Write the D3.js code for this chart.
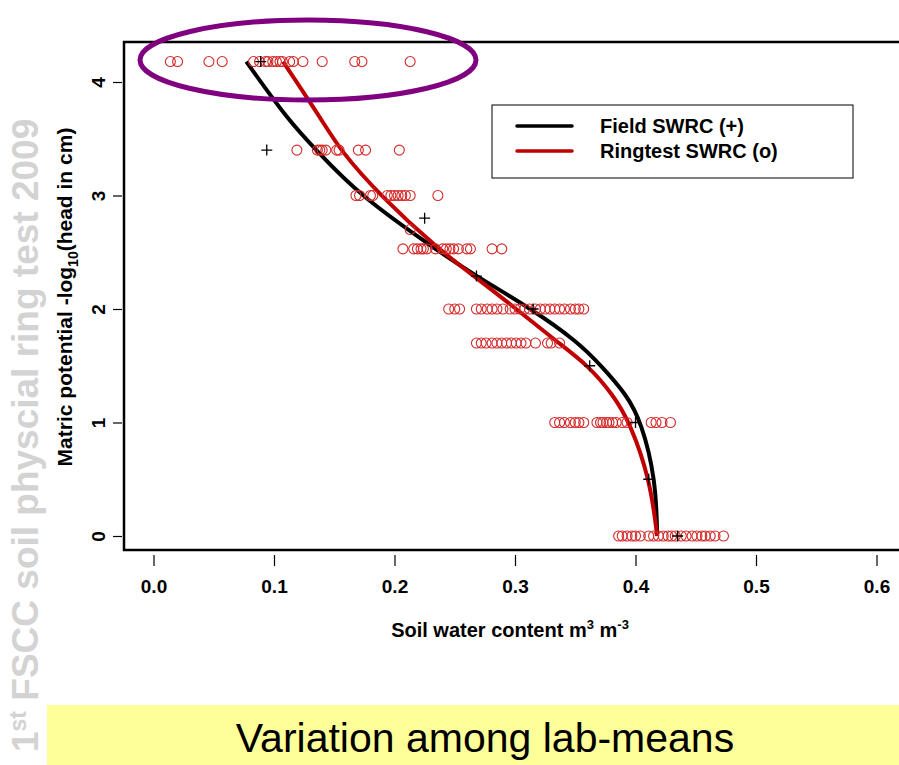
<!DOCTYPE html>
<html>
<head>
<meta charset="utf-8">
<script src="https://cdn.jsdelivr.net/npm/d3@7"></script>
<style>
  body { margin: 0; background: #fff; }
  svg { display: block; font-family: Arial, "Liberation Sans", sans-serif; }
</style>
</head>
<body>
<div id="wrapper"></div>
<script>
// ringtest lab means, one array per pF level (theta in m3/m3)
const ring418 = [0.014, 0.020, 0.046, 0.057, 0.083, 0.088, 0.093, 0.095, 0.099, 0.102, 0.105, 0.107, 0.113, 0.116, 0.124, 0.140, 0.167, 0.173, 0.213];
const ring340 = [0.119, 0.136, 0.138, 0.140, 0.143, 0.152, 0.154, 0.170, 0.176, 0.204];
const ring300 = [0.168, 0.171, 0.180, 0.182, 0.194, 0.197, 0.200, 0.203, 0.206, 0.209, 0.213, 0.236];
const ring270 = [0.213];
const ring253 = [0.207, 0.216, 0.219, 0.222, 0.224, 0.227, 0.234, 0.240, 0.243, 0.246, 0.249, 0.253, 0.260, 0.263, 0.281, 0.289];
const ring200 = [0.245, 0.250, 0.254, 0.268, 0.272, 0.277, 0.281, 0.285, 0.290, 0.296, 0.300, 0.304, 0.308, 0.312, 0.317, 0.321, 0.325, 0.329, 0.333, 0.337, 0.341, 0.346, 0.350, 0.353, 0.357];
const ring170 = [0.268, 0.272, 0.276, 0.281, 0.285, 0.289, 0.293, 0.297, 0.301, 0.305, 0.309, 0.317, 0.327, 0.330, 0.337];
const ring100 = [0.333, 0.337, 0.341, 0.346, 0.350, 0.353, 0.357, 0.368, 0.371, 0.373, 0.376, 0.378, 0.381, 0.384, 0.389, 0.393, 0.413, 0.417, 0.422, 0.429];
const ring000 = [0.386, 0.389, 0.393, 0.397, 0.400, 0.404, 0.411, 0.415, 0.419, 0.423, 0.427, 0.430, 0.433, 0.438, 0.442, 0.447, 0.451, 0.455, 0.458, 0.462, 0.466, 0.473];

const ringRows = [[4.18, ring418], [3.4, ring340], [3.0, ring300], [2.7, ring270], [2.53, ring253],
                  [2.0, ring200], [1.7, ring170], [1.0, ring100], [0.0, ring000]];

// field measurements (+)
const fieldTheta = [0.089, 0.094, 0.225, 0.268, 0.315, 0.362, 0.400, 0.411, 0.435];
const fieldPf    = [4.18, 3.4, 2.8, 2.29, 2.0, 1.5, 1.0, 0.5, 0.0];

// fitted curves read along the pF axis
const curvePf    = [4.18, 3.665, 3.4, 3.0, 2.53, 2.29, 2.01, 1.71, 1.5, 1.245, 1.0, 0.5, 0.0];
const fieldCurve = [0.077, 0.1116, 0.135, 0.171, 0.2336, 0.2676, 0.3124, 0.3523, 0.3715, 0.3927, 0.405, 0.4168, 0.418];
const ringCurve  = [0.1075, 0.1398, 0.1548, 0.188, 0.2361, 0.266, 0.300, 0.335, 0.361, 0.3813, 0.3954, 0.412, 0.418];

const xTicks = [0, 0.1, 0.2, 0.3, 0.4, 0.5, 0.6];
const yTicks = [0, 1, 2, 3, 4];
const legendLabels = ["Field SWRC (+)", "Ringtest SWRC (o)"];

const W = 899, H = 765;
const redPt = "#d42a2a", redLine = "#c00000";
const FONT = "Arial, 'Liberation Sans', sans-serif";

var svg = d3.select("#wrapper").append("svg").attr("width", W).attr("height", H);

var x = d3.scaleLinear().domain([0, 0.6]).range([153.5, 876.5]);
var y = d3.scaleLinear().domain([0, 4]).range([536, 82]);
var frame = { left: 124, top: 42, bottom: 550 };

// watermark on the left
var wm = svg.append("text")
  .attr("transform", "translate(38,752) rotate(-90)")
  .style("font-size", "37px").style("font-weight", "bold").style("fill", "#d3d3d3");
wm.append("tspan").text("1");
wm.append("tspan").attr("dy", -12).style("font-size", "23px").text("st");
wm.append("tspan").attr("dy", 12).text(" FSCC soil physcial ring test 2009");

// yellow caption band
svg.append("rect").attr("x", 47).attr("y", 705).attr("width", W - 47).attr("height", 60).attr("fill", "#ffff99");
svg.append("text").attr("x", 485).attr("y", 752).attr("text-anchor", "middle")
  .style("font-size", "41px").style("fill", "#000").text("Variation among lab-means");

// plot frame
svg.append("rect").attr("x", frame.left).attr("y", frame.top)
  .attr("width", W + 40 - frame.left).attr("height", frame.bottom - frame.top)
  .attr("fill", "none").attr("stroke", "#000").attr("stroke-width", 2.5);

// axes
var xAxis = svg.append("g").attr("transform", "translate(0,555)")
  .call(d3.axisBottom(x).tickValues(xTicks).tickFormat(d3.format(".1f")).tickSize(11).tickPadding(14));
xAxis.select(".domain").remove();
xAxis.selectAll("line").attr("stroke-width", 1.2);
xAxis.selectAll("text").style("font-size", "19px").style("font-weight", "bold").style("font-family", FONT);

var yAxis = svg.append("g").attr("transform", "translate(122,0)")
  .call(d3.axisLeft(y).tickValues(yTicks).tickFormat(d3.format("d")).tickSize(9));
yAxis.select(".domain").remove();
yAxis.selectAll("line").attr("stroke-width", 1.2);
yAxis.selectAll("text")
  .attr("transform", "rotate(-90)").attr("x", 0).attr("y", -17).attr("dy", 0)
  .attr("text-anchor", "middle")
  .style("font-size", "19px").style("font-weight", "bold").style("font-family", FONT);

// axis titles
var xt = svg.append("text").attr("x", 510).attr("y", 637).attr("text-anchor", "middle")
  .style("font-size", "20px").style("font-weight", "bold");
xt.append("tspan").text("Soil water content m");
xt.append("tspan").attr("dy", -8).style("font-size", "13px").text("3");
xt.append("tspan").attr("dy", 8).text(" m");
xt.append("tspan").attr("dy", -8).style("font-size", "13px").text("-3");

var yt = svg.append("text").attr("transform", "translate(72,297) rotate(-90)").attr("text-anchor", "middle")
  .style("font-size", "21px").style("font-weight", "bold");
yt.append("tspan").text("Matric potential -log");
yt.append("tspan").attr("dy", 6).style("font-size", "14px").text("10");
yt.append("tspan").attr("dy", -6).text("(head in cm)");

// curves
var line = d3.line().x(d => x(d[0])).y(d => y(d[1])).curve(d3.curveBasis);
svg.append("path").datum(fieldCurve.map((t, i) => [t, curvePf[i]]))
  .attr("d", line).attr("fill", "none").attr("stroke", "#000").attr("stroke-width", 4);
svg.append("path").datum(ringCurve.map((t, i) => [t, curvePf[i]]))
  .attr("d", line).attr("fill", "none").attr("stroke", redLine).attr("stroke-width", 4);

// ringtest points
var pts = [];
ringRows.forEach(r => r[1].forEach(t => pts.push({ t: t, pf: r[0] })));
svg.append("g").selectAll("circle").data(pts).enter().append("circle")
  .attr("cx", d => x(d.t)).attr("cy", d => y(d.pf)).attr("r", 5)
  .attr("fill", "none").attr("stroke", redPt).attr("stroke-width", 1.1);

// field points
svg.append("g").selectAll("path").data(fieldTheta.map((t, i) => [t, fieldPf[i]])).enter().append("path")
  .attr("d", d => { var cx = x(d[0]), cy = y(d[1]); return `M${cx-5.5},${cy}H${cx+5.5}M${cx},${cy-5.5}V${cy+5.5}`; })
  .attr("stroke", "#000").attr("stroke-width", 1.3).attr("fill", "none");

// legend
svg.append("rect").attr("x", 492).attr("y", 105).attr("width", 361).attr("height", 73)
  .attr("fill", "#fff").attr("stroke", "#000").attr("stroke-width", 1);
var lg = svg.append("g").selectAll("g").data(legendLabels).enter().append("g")
  .attr("transform", (d, i) => `translate(0,${126 + i * 25})`);
lg.append("line").attr("x1", 517).attr("x2", 572).attr("y1", 0).attr("y2", 0)
  .attr("stroke", (d, i) => i ? redLine : "#000").attr("stroke-width", 3.5).attr("stroke-linecap", "round");
lg.append("text").attr("x", 600).attr("y", 7).style("font-size", "20px").style("font-weight", "bold").text(d => d);

// highlight ellipse
svg.append("ellipse").attr("cx", 308).attr("cy", 60).attr("rx", 168).attr("ry", 40)
  .attr("fill", "none").attr("stroke", "#800080").attr("stroke-width", 5);
</script>
</body>
</html>
